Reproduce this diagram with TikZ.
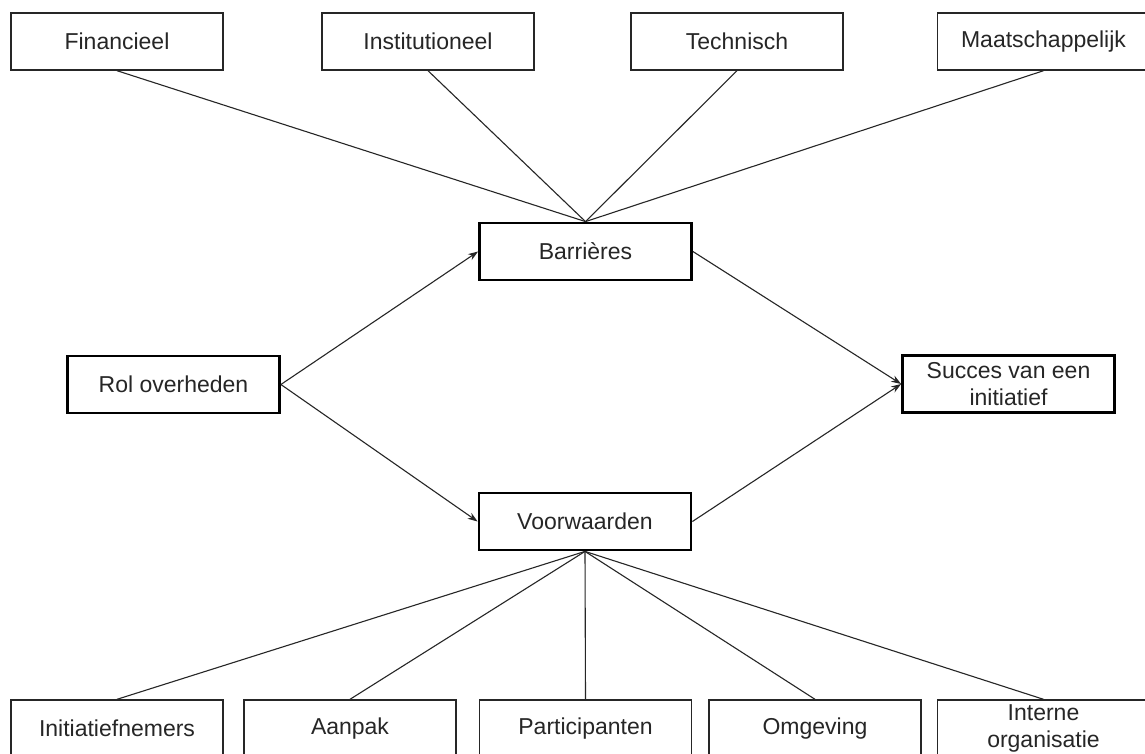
\documentclass[tikz,border=0pt]{standalone}
\usepackage{fontspec}
\setmainfont{Liberation Sans}
\usetikzlibrary{arrows.meta}
\definecolor{txt}{HTML}{262626}
\tikzset{
  thinbox/.style={draw=black!85, line width=1.4pt, minimum width=212pt, minimum height=57pt, inner sep=0pt, align=center, text=txt, font=\fontsize{23}{26.5}\selectfont},
  thickbox/.style={thinbox, line width=2.8pt, draw=black},
  conn/.style={line width=1.1pt, draw=black!85},
  arr/.style={conn, -{Stealth[length=10pt,width=7pt]}}
}
\begin{document}
\begin{tikzpicture}[x=1pt,y=-1pt]
\useasboundingbox (0,0) rectangle (1145,754);
\clip (0,0) rectangle (1145,754);
\fill[white] (0,0) rectangle (1145,754);
% top row
\node[thinbox] (fin) at (117,41.5) {Financieel};
\node[thinbox] (ins) at (428,41.5) {Institutioneel};
\node[thinbox] (tec) at (737,41.5) {Technisch};
\node[thinbox] (maa) at (1043.5,41.5) {Maatschappelijk};
% middle
\node[thickbox] (bar) at (585.5,251.5) {Barrières};
\node[thickbox] (rol) at (173.5,384.5) {Rol overheden};
\node[thickbox] (suc) at (1008.5,384) {Succes van een\\initiatief};
\node[thickbox] (voo) at (585,521.5) {Voorwaarden};
% bottom row
\node[thinbox] (ini) at (117,728.5) {Initiatiefnemers};
\node[thinbox] (aan) at (350,728.5) {Aanpak};
\node[thinbox] (par) at (585.5,728.5) {Participanten};
\node[thinbox] (omg) at (815,728.5) {Omgeving};
\node[thinbox] (int) at (1043.5,728.5) {Interne\\organisatie};
% connectors top
\foreach \n in {fin,ins,tec,maa} \draw[conn] (\n.south) -- (bar.north);
% connectors bottom
\foreach \n in {ini,aan,par,omg,int} \draw[conn] (voo.south) -- (\n.north);
% arrows
\draw[arr] (rol.east) -- (bar.west);
\draw[arr] (rol.east) -- (voo.west);
\draw[arr] (bar.east) -- (suc.west);
\draw[arr] (voo.east) -- (suc.west);
\end{tikzpicture}
\end{document}
